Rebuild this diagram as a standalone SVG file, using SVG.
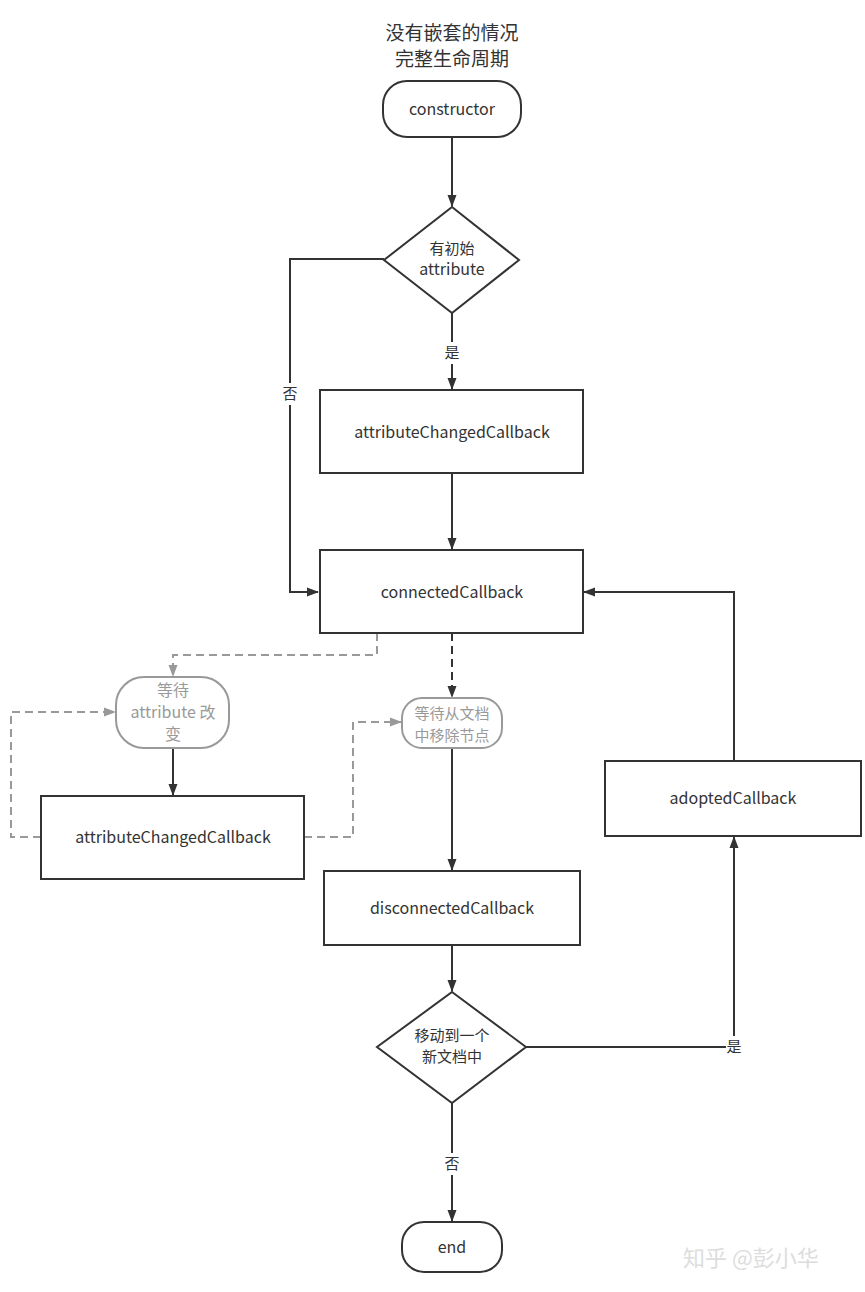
<svg xmlns="http://www.w3.org/2000/svg" width="865" height="1292" viewBox="0 0 865 1292">
<style>
text{font-family:"Noto Sans CJK SC","Noto Sans",sans-serif;font-size:16px;fill:#333;text-anchor:middle}
.t{font-size:19px}
.s{font-size:15px}
.g{fill:#999}
.box{fill:#fff;stroke:#333;stroke-width:2}
.gbox{fill:#fff;stroke:#999;stroke-width:2}
.ln{fill:none;stroke:#333;stroke-width:2}
.dk{fill:none;stroke:#333;stroke-width:2;stroke-dasharray:8 5}
.gd{fill:none;stroke:#999;stroke-width:2;stroke-dasharray:8 5}
.wm{font-size:22px;fill:#ddd;text-anchor:start}
</style>
<defs>
<marker id="a" markerWidth="12" markerHeight="10" refX="11" refY="5" orient="auto" markerUnits="userSpaceOnUse"><path d="M0,0.5 L12,5 L0,9.5 Z" fill="#333"/></marker>
<marker id="ag" markerWidth="12" markerHeight="10" refX="11" refY="5" orient="auto" markerUnits="userSpaceOnUse"><path d="M0,0.5 L12,5 L0,9.5 Z" fill="#999"/></marker>
</defs>
<rect width="865" height="1292" fill="#fff"/>
<g id="title"><text class="t" x="452" y="40">没有嵌套的情况</text><text class="t" x="452" y="66">完整生命周期</text></g>
<g id="connectors">
<path class="ln" d="M452,137 V206" marker-end="url(#a)"/>
<path class="ln" d="M384,259 H290 V592 H318" marker-end="url(#a)"/>
<path class="ln" d="M452,313 V389" marker-end="url(#a)"/>
<path class="ln" d="M452,473 V549" marker-end="url(#a)"/>
<path class="gd" d="M377,633 V655 H173 V676" marker-end="url(#ag)"/>
<path class="dk" d="M452,633 V697" marker-end="url(#a)"/>
<path class="ln" d="M173,748 V795" marker-end="url(#a)"/>
<path class="gd" d="M41,837 H11 V712 H115" marker-end="url(#ag)"/>
<path class="gd" d="M304,837 H353 V722 H401" marker-end="url(#ag)"/>
<path class="ln" d="M452,748 V870" marker-end="url(#a)"/>
<path class="ln" d="M452,945 V991" marker-end="url(#a)"/>
<path class="ln" d="M526,1047 H734 V837" marker-end="url(#a)"/>
<path class="ln" d="M734,761 V592 H584" marker-end="url(#a)"/>
<path class="ln" d="M452,1103 V1221" marker-end="url(#a)"/>
<rect x="282" y="383" width="16" height="22" fill="#fff"/><text class="s" x="290" y="399">否</text>
<rect x="444" y="342" width="16" height="22" fill="#fff"/><text class="s" x="452" y="358">是</text>
<rect x="726" y="1036" width="16" height="22" fill="#fff"/><text class="s" x="734" y="1052">是</text>
<rect x="444" y="1153" width="16" height="22" fill="#fff"/><text class="s" x="452" y="1169">否</text>
</g>
<g id="constructor"><rect class="box" x="383" y="81" width="138" height="56" rx="24"/><text x="452" y="115">constructor</text></g>
<g id="hasAttr"><path class="box" d="M452,207 L519,260 L452,313 L384,260 Z"/><text class="s" x="452" y="254">有初始</text><text x="452" y="275">attribute</text></g>
<g id="attrChanged1"><rect class="box" x="320" y="390" width="263" height="83"/><text x="452" y="438">attributeChangedCallback</text></g>
<g id="connected"><rect class="box" x="320" y="550" width="263" height="83"/><text x="452" y="598">connectedCallback</text></g>
<g id="waitAttr"><rect class="gbox" x="116" y="677" width="113" height="71" rx="28"/><text class="g" x="173" y="696">等待</text><text class="g" x="173" y="718">attribute 改</text><text class="g" x="173" y="740">变</text></g>
<g id="attrChanged2"><rect class="box" x="41" y="796" width="263" height="83"/><text x="173" y="843">attributeChangedCallback</text></g>
<g id="waitRemove"><rect class="gbox" x="402" y="698" width="100" height="50" rx="20"/><text class="g s" x="452" y="719">等待从文档</text><text class="g s" x="452" y="741">中移除节点</text></g>
<g id="disconnected"><rect class="box" x="324" y="871" width="256" height="74"/><text x="452" y="914">disconnectedCallback</text></g>
<g id="moved"><path class="box" d="M452,992 L526,1047 L452,1103 L377,1047 Z"/><text class="s" x="452" y="1041">移动到一个</text><text class="s" x="452" y="1062">新文档中</text></g>
<g id="adopted"><rect class="box" x="605" y="761" width="256" height="75"/><text x="733" y="804">adoptedCallback</text></g>
<g id="end"><rect class="box" x="402" y="1222" width="100" height="50" rx="22"/><text x="452" y="1253">end</text></g>
<text class="wm" x="683" y="1266">知乎 @彭小华</text>
</svg>
